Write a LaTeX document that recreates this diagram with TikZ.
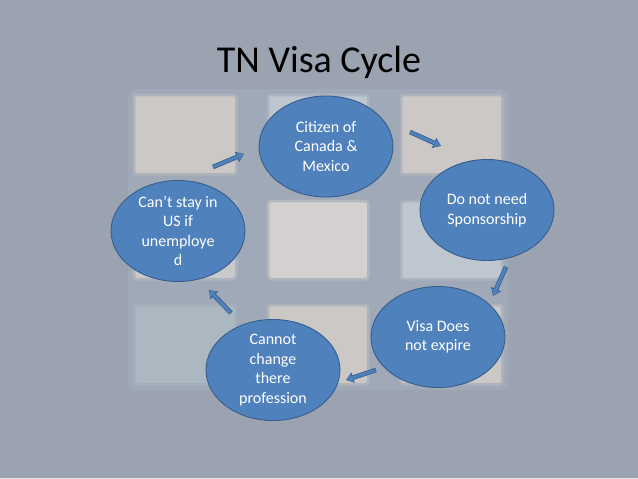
\documentclass[tikz,border=0pt]{standalone}
\usepackage{fontspec}
\setmainfont{Carlito}
\usetikzlibrary{shapes.geometric,arrows.meta}

\definecolor{slidebg}{HTML}{9BA3B1}
\definecolor{tilehalo}{HTML}{A0A9B7}
\definecolor{stepblue}{HTML}{4F81BD}
\definecolor{stepedge}{HTML}{385D8A}
\definecolor{tilewarm}{HTML}{CBC8C6}
\definecolor{tilecool}{HTML}{BEC6D0}
\definecolor{tilegrey}{HTML}{C8C9CB}
\definecolor{tileteal}{HTML}{ABB8C1}

\tikzset{
  stepnode/.style={ellipse, draw=stepedge, line width=0.9pt, fill=stepblue,
    text=white, minimum width=134pt, minimum height=101pt, inner sep=0pt,
    align=center, font=\fontsize{16}{19.5}\selectfont},
  cyclearrow/.style={draw=stepblue, line width=3pt,
    -{Triangle[length=5.5pt,width=8pt]}, shorten >=1pt, shorten <=0.7pt,
    preaction={draw=stepedge, line width=4.6pt,
      -{Triangle[length=7.5pt,width=10.5pt]}, shorten >=0pt, shorten <=0pt}},
  tile/.style={draw=#1, fill=#1, line width=1.5pt, rounded corners=1pt,
    preaction={draw=#1, draw opacity=0.35, line width=7pt, rounded corners=3pt}}
}

\begin{document}
\begin{tikzpicture}[x=1pt,y=-1pt]
    \useasboundingbox (0,0) rectangle (638,479);
    \fill[slidebg] (0,0) rectangle (638,479);
    \fill[white!70!slidebg] (0,477.5) rectangle (638,479);
    % faded grid of tiles behind the cycle
    \fill[tilehalo, rounded corners=8pt] (128,89) rectangle (508,390);
    \path[tile=tilewarm] (136,97) rectangle (234,172);
    \path[tile=tilecool] (270,97) rectangle (366,172);
    \path[tile=tilewarm] (403,97) rectangle (500,172);
    \path[tile=tilegrey] (136,203) rectangle (234,277);
    \path[tile=tilewarm!85!white] (270,203) rectangle (366,277);
    \path[tile=tilecool] (403,203) rectangle (500,277);
    \path[tile=tileteal] (136,307) rectangle (234,382);
    \path[tile=tilewarm] (270,307) rectangle (366,382);
    \path[tile=tilewarm] (403,307) rectangle (500,382);

    \node[font=\fontsize{38}{46}\selectfont, anchor=base] (title) at (319,72) {TN Visa Cycle};

    \node[stepnode] (citizen) at (326,146.5) {Citizen of\\Canada \&\\Mexico};
    \node[stepnode] (sponsor) at (487,210) {Do not need\\Sponsorship};
    \node[stepnode] (expire) at (438,337) {Visa Does\\not expire};
    \node[stepnode] (profession) at (273,370) {Cannot\\change\\there\\profession};
    \node[stepnode] (cant) at (178,231) {Can’t stay in\\US if\\unemploye\\d};

    % arrow ends, placed off each circle
    \coordinate (a1from) at ([shift={(35,-64)}]cant.center);
    \coordinate (a1to) at ([shift={(-82,7.5)}]citizen.center);
    \coordinate (a2from) at ([shift={(84,-14.5)}]citizen.center);
    \coordinate (a2to) at ([shift={(-46,-64)}]sponsor.center);
    \coordinate (a3from) at ([shift={(19,57)}]sponsor.center);
    \coordinate (a3to) at ([shift={(55,-41)}]expire.center);
    \coordinate (a4from) at ([shift={(-62,33)}]expire.center);
    \coordinate (a4to) at ([shift={(73,10)}]profession.center);
    \coordinate (a5from) at ([shift={(-42,-57)}]profession.center);
    \coordinate (a5to) at ([shift={(31,59)}]cant.center);

    \draw[cyclearrow] (a1from) -- (a1to);
    \draw[cyclearrow] (a2from) -- (a2to);
    \draw[cyclearrow] (a3from) -- (a3to);
    \draw[cyclearrow] (a4from) -- (a4to);
    \draw[cyclearrow] (a5from) -- (a5to);
\end{tikzpicture}
\end{document}
